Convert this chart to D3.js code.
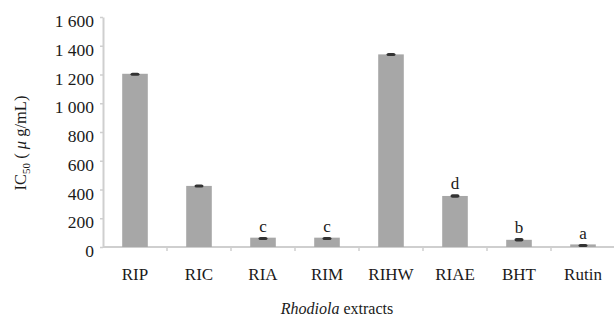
<!DOCTYPE html>
<html>
<head>
<meta charset="utf-8">
<script src="https://cdn.jsdelivr.net/npm/d3@7"></script>
<style>
  body { margin: 0; background: #fff; }
  svg text { font-family: "Liberation Serif", "Times New Roman", serif; }
</style>
</head>
<body>
<div id="chart"></div>
<script>
// values
const categories = ['RIP', 'RIC', 'RIA', 'RIM', 'RIHW', 'RIAE', 'BHT', 'Rutin'];
const ic50 = [1205, 425, 65, 65, 1340, 355, 50, 18];
const errors = [8, 10, 4, 4, 10, 12, 12, 3];
const letters = ['', '', 'c', 'c', '', 'd', 'b', 'a'];
const yTicks = [0, 200, 400, 600, 800, 1000, 1200, 1400, 1600];

const width = 614, height = 320;
const margin = { top: 17, right: 0, bottom: 73, left: 103 };
const serif = '"Liberation Serif", "Times New Roman", serif';
const ink = '#1a1a1a';

const svg = d3.select('#chart').append('svg')
    .attr('width', width)
    .attr('height', height);

const x = d3.scaleBand()
    .domain(categories)
    .range([margin.left, width + 1])
    .paddingInner(0.6)
    .paddingOuter(0.3);

const y = d3.scaleLinear()
    .domain([0, 1600])
    .range([height - margin.bottom, margin.top]);

const axisColor = '#cfcfcf';
// "1 600" style thousands separator
const fmt = d => d >= 1000 ? d3.format(',')(d).replace(',', ' ') : String(d);

// y axis
svg.append('g')
    .attr('transform', `translate(${margin.left},0)`)
    .attr('font-family', serif)
    .call(d3.axisLeft(y).tickValues(yTicks).tickFormat(fmt).tickSize(3).tickSizeOuter(0))
    .attr('font-family', serif)
    .call(g => g.select('.domain').attr('stroke', axisColor).attr('stroke-width', 2))
    .call(g => g.selectAll('.tick line').attr('stroke', axisColor).attr('stroke-width', 1.5))
    .call(g => g.selectAll('.tick text')
        .attr('fill', ink)
        .attr('x', -9)
        .attr('dy', '0.55em')
        .style('font-size', '17.5px')
        .style('font-family', serif));

// x axis: ticks sit between the bands
const step = x.step();
const bounds = d3.range(categories.length).map(i => margin.left + (i + 1) * step);
const xa = svg.append('g');
xa.append('line')
    .attr('x1', margin.left).attr('x2', width)
    .attr('y1', y(0)).attr('y2', y(0))
    .attr('stroke', axisColor).attr('stroke-width', 2);
xa.selectAll('line.tk').data(bounds).join('line')
    .attr('class', 'tk')
    .attr('x1', d => d).attr('x2', d => d)
    .attr('y1', y(0)).attr('y2', y(0) + 4)
    .attr('stroke', axisColor).attr('stroke-width', 1.5);
xa.selectAll('text').data(categories).join('text')
    .attr('x', d => x(d) + x.bandwidth() / 2)
    .attr('y', y(0) + 33)
    .attr('text-anchor', 'middle')
    .attr('fill', ink)
    .style('font-size', '17px')
    .text(d => d);

const data = categories.map((c, i) => ({ c, v: ic50[i], e: errors[i], l: letters[i] }));

// bars
svg.selectAll('rect.bar').data(data).join('rect')
    .attr('class', 'bar')
    .attr('x', d => x(d.c))
    .attr('y', d => y(d.v))
    .attr('width', x.bandwidth())
    .attr('height', d => y(0) - y(d.v))
    .attr('fill', '#a7a7a7');

// error caps
svg.selectAll('rect.err').data(data).join('rect')
    .attr('class', 'err')
    .attr('x', d => x(d.c) + x.bandwidth() / 2 - 4.5)
    .attr('y', d => y(d.v + d.e))
    .attr('width', 9)
    .attr('height', d => Math.max(3, y(d.v - d.e) - y(d.v + d.e)))
    .attr('rx', 2)
    .attr('fill', '#333');

// significance letters
svg.selectAll('text.sig').data(data.filter(d => d.l)).join('text')
    .attr('class', 'sig')
    .attr('x', d => x(d.c) + x.bandwidth() / 2)
    .attr('y', d => y(d.v + d.e) - 5)
    .attr('text-anchor', 'middle')
    .attr('fill', ink)
    .style('font-size', '17px')
    .text(d => d.l);

// axis titles
const xt = svg.append('text')
    .attr('x', 337)
    .attr('y', 314)
    .attr('text-anchor', 'middle')
    .attr('fill', ink)
    .style('font-size', '16px');
xt.append('tspan').style('font-style', 'italic').text('Rhodiola');
xt.append('tspan').text(' extracts');

const yt = svg.append('text')
    .attr('transform', 'translate(26,143) rotate(-90)')
    .attr('text-anchor', 'middle')
    .attr('fill', ink)
    .style('font-size', '16.5px');
yt.append('tspan').text('IC');
yt.append('tspan').attr('dy', 4).style('font-size', '11px').text('50');
yt.append('tspan').attr('dy', -4).text(' ( ');
yt.append('tspan').style('font-style', 'italic').text('μ');
yt.append('tspan').text(' g/mL)');
</script>
</body>
</html>
